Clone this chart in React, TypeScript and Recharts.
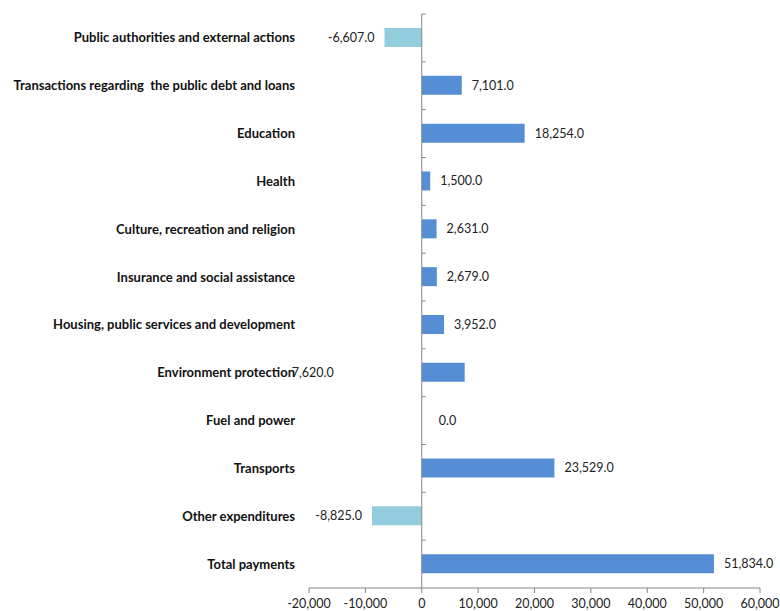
import { BarChart, Bar, XAxis, YAxis, Cell, LabelList, ReferenceLine } from "recharts";

// Categories, top to bottom
const categories = [
  "Public authorities and external actions",
  "Transactions regarding  the public debt and loans",
  "Education",
  "Health",
  "Culture, recreation and religion",
  "Insurance and social assistance",
  "Housing, public services and development",
  "Environment protection",
  "Fuel and power",
  "Transports",
  "Other expenditures",
  "Total payments",
];

const values = [-6607, 7101, 18254, 1500, 2631, 2679, 3952, 7620, 0, 23529, -8825, 51834];

const xTicks = [-20000, -10000, 0, 10000, 20000, 30000, 40000, 50000, 60000];

const data = categories.map((name, i) => ({ name, value: values[i] }));

const FONT = "Lato, 'Open Sans', sans-serif";
const POS = "#558ED5";
const NEG = "#93CDDD";
const AXIS = "#868686";

const fmt = (v: number) =>
  v.toLocaleString("en-US", { minimumFractionDigits: 1, maximumFractionDigits: 1 });

const ValueLabel = (props: any) => {
  const { x, y, width, height, value, index } = props;
  const cy = y + height / 2;
  const left = Math.min(x, x + width);
  const right = Math.max(x, x + width);
  let tx = right + 10;
  let anchor: "start" | "end" = "start";
  if (value < 0) {
    tx = left - 10;
    anchor = "end";
  } else if (value === 0) {
    tx = left + 17;
  }
  // excel put this one over the category name
  if (categories[index] === "Environment protection") {
    tx = left - 130;
  }
  return (
    <text x={tx} y={cy} dy="0.35em" textAnchor={anchor} fontSize={12.5} fontFamily={FONT} fill="#222">
      {fmt(value)}
    </text>
  );
};

const CategoryTick = (props: any) => {
  const { x, y, payload } = props;
  return (
    <text
      x={x}
      y={y}
      dy="0.35em"
      textAnchor="end"
      fontSize={13}
      fontWeight={700}
      fontFamily={FONT}
      fill="#111"
      style={{ whiteSpace: "pre" }}
    >
      {payload.value}
    </text>
  );
};

const ZeroAxis = (props: any) => {
  const { x1, y1, x2, y2 } = props;
  const top = Math.min(y1, y2);
  const bottom = Math.max(y1, y2);
  const step = (bottom - top) / categories.length;
  const ticks = categories.map((_, i) => top + i * step);
  return (
    <g>
      <line x1={x1} y1={top} x2={x2} y2={bottom} stroke={AXIS} strokeWidth={1} />
      {ticks.map((ty, i) => (
        <line key={i} x1={x1} y1={ty} x2={x1 + 4} y2={ty} stroke={AXIS} strokeWidth={1} />
      ))}
    </g>
  );
};

export default function App() {
  return (
    <div style={{ position: "absolute", left: 0, top: 0, background: "#fff" }}>
      <BarChart
        width={780}
        height={611}
        data={data}
        layout="vertical"
        margin={{ top: 14, right: 20, bottom: 0, left: 0 }}
        barCategoryGap={0}
      >
        <XAxis
          type="number"
          domain={[-20000, 60000]}
          ticks={xTicks}
          interval={0}
          height={23}
          tickSize={5}
          tickMargin={6}
          stroke={AXIS}
          tick={{ fill: "#222", fontSize: 12.5, fontFamily: FONT }}
          tickFormatter={(v: number) => v.toLocaleString("en-US")}
        />
        <YAxis
          type="category"
          dataKey="name"
          width={309}
          axisLine={false}
          tickLine={false}
          tickSize={0}
          tickMargin={14}
          interval={0}
          tick={CategoryTick}
        />
        <ReferenceLine x={0} shape={ZeroAxis} ifOverflow="visible" />
        <Bar dataKey="value" barSize={19} minPointSize={1} isAnimationActive={false}>
          {data.map((d, i) => (
            <Cell key={i} fill={d.value < 0 ? NEG : d.value === 0 ? "none" : POS} />
          ))}
          <LabelList dataKey="value" content={ValueLabel} />
        </Bar>
      </BarChart>
    </div>
  );
}
